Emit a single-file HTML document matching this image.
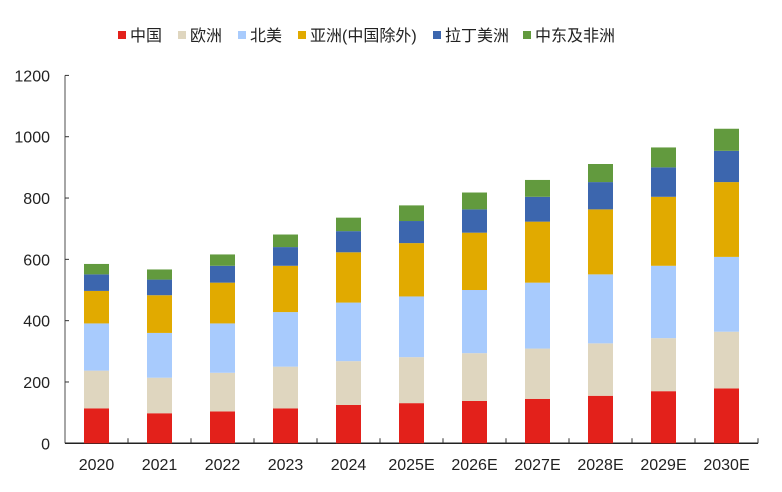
<!DOCTYPE html>
<html><head><meta charset="utf-8">
<style>
html,body{margin:0;padding:0;background:#fff;}
svg{display:block;font-family:"Liberation Sans","Noto Sans CJK SC",sans-serif;}
</style></head>
<body>
<svg id="chart" width="782" height="492"></svg>
<script>
const categories=["2020","2021","2022","2023","2024","2025E","2026E","2027E","2028E","2029E","2030E"];
const seriesNames=["中国","欧洲","北美","亚洲(中国除外)","拉丁美洲","中东及非洲"];
const seriesColors=["#e3211b","#dfd6bf","#a8cbfd","#e1aa00","#3c66ae","#629a3e"];
const china=[114,98,104,114,125,131,138,145,155,170,179];
const europe=[123,116,126,136,143,150,156,164,171,173,185];
const northAmerica=[154,146,161,178,191,198,206,215,225,236,244];
const asiaExChina=[106,123,133,151,164,174,187,199,212,225,244];
const latinAmerica=[54,51,55,61,69,72,76,81,89,96,102];
const mideastAfrica=[34,33,37,41,44,51,55,55,59,65,72];
const yTicks=[0,200,400,600,800,1000,1200];
const series=[china,europe,northAmerica,asiaExChina,latinAmerica,mideastAfrica];
const NS="http://www.w3.org/2000/svg";
const svg=document.getElementById('chart');
const x0=65,x1=758,y0=443.3,yTop=75.4,yMax=1200;
const band=(x1-x0)/categories.length;
function yScale(v){return y0-(v/yMax)*(y0-yTop);}
function xCenter(i){return x0+band*(i+0.5);}
function mk(tag,attrs){const e=document.createElementNS(NS,tag);for(const k in attrs)e.setAttribute(k,attrs[k]);svg.appendChild(e);return e;}
// y axis
let ax=mk('line',{x1:x0,y1:yTop,x2:x0,y2:y0,stroke:'#888','stroke-width':1.5});


yTicks.forEach(t=>{
  const y=yScale(t);
  const tk=mk('line',{x1:x0,y1:y,x2:x0+4,y2:y,stroke:'#333','stroke-width':1});
  
  
  const tx=mk('text',{x:50,y:y+6,'text-anchor':'end','font-size':16,fill:'#222'});
  tx.textContent=t;
  
  
});
// x axis
let xa=mk('line',{x1:x0,y1:y0,x2:x1,y2:y0,stroke:'#222','stroke-width':1.5});


for(let i=1;i<=categories.length;i++){
  const x=x0+band*i;
  const tk=mk('line',{x1:x,y1:y0-5,x2:x,y2:y0,stroke:'#333','stroke-width':1});
  
  
}
categories.forEach((c,i)=>{
  const tx=mk('text',{x:xCenter(i),y:470,'text-anchor':'middle','font-size':16,fill:'#222'});
  tx.textContent=c;
  
  
});
// bars
const bw=25;
categories.forEach((c,i)=>{
  let acc=0;
  series.forEach((s,k)=>{
    const v=s[i];
    const yt=yScale(acc+v),yb=yScale(acc);
    const r=mk('rect',{x:xCenter(i)-bw/2,y:yt,width:bw,height:yb-yt,fill:seriesColors[k]});
    
    
    acc+=v;
  });
});
// legend
const legX=[118,178,238,298,433,523];
seriesNames.forEach((n,k)=>{
  const sq=mk('rect',{x:legX[k],y:31,width:8,height:8,fill:seriesColors[k]});
  
  
  const t=mk('text',{x:legX[k]+12,y:41,'font-size':16,fill:'#222'});
  t.textContent=n;
  
  
});
</script>
</body></html>
